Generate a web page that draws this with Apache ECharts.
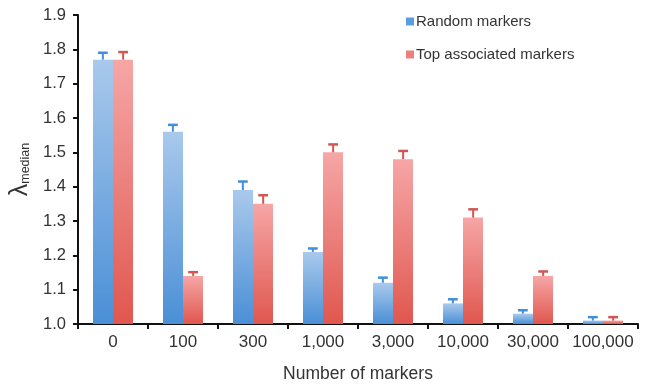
<!DOCTYPE html>
<html>
<head>
<meta charset="utf-8">
<script src="https://cdn.jsdelivr.net/npm/echarts@6/dist/echarts.min.js"></script>
<style>
  html, body { margin: 0; padding: 0; background: #fff; }
  #chart { width: 649px; height: 386px; }
</style>
</head>
<body>
<div id="chart"></div>
<script>
// Median genomic inflation (lambda) by number of markers used for adjustment
var categories = ['0', '100', '300', '1,000', '3,000', '10,000', '30,000', '100,000'];
var randomValues = [1.77, 1.56, 1.39, 1.21, 1.12, 1.06, 1.03, 1.01];
var randomUpper  = [1.79, 1.58, 1.415, 1.22, 1.135, 1.072, 1.04, 1.02];
var topValues    = [1.77, 1.14, 1.35, 1.50, 1.48, 1.31, 1.14, 1.01];
var topUpper     = [1.792, 1.151, 1.375, 1.523, 1.504, 1.334, 1.153, 1.02];
var yTicks = [1.0, 1.1, 1.2, 1.3, 1.4, 1.5, 1.6, 1.7, 1.8, 1.9];

var chart = echarts.init(document.getElementById('chart'));
var FONT = 'Liberation Sans, Arial, sans-serif';

function grad(top, bottom) {
  return new echarts.graphic.LinearGradient(0, 0, 0, 1, [
    { offset: 0, color: top }, { offset: 1, color: bottom }
  ]);
}
var blueFill = grad('#a9c9ec', '#4a8fd6');
var redFill = grad('#f6a6a6', '#e0574f');

// upper error bar with cap; side selects left (-1) or right (+1) bar of the pair
function errorBar(upper, values, side, color) {
  return {
    type: 'custom',
    z: 5,
    data: categories.map(function (c, i) { return [i, values[i], upper[i]]; }),
    renderItem: function (params, api) {
      var base = api.coord([api.value(0), api.value(1)]);
      var top = api.coord([api.value(0), api.value(2)]);
      var band = api.size([1, 0])[0];
      var x = base[0] + side * band * 0.145;
      var cap = band * 0.07;
      return {
        type: 'group',
        children: [
          { type: 'line', shape: { x1: x, y1: base[1], x2: x, y2: top[1] },
            style: { stroke: color, lineWidth: 2 } },
          { type: 'line', shape: { x1: x - cap, y1: top[1], x2: x + cap, y2: top[1] },
            style: { stroke: color, lineWidth: 2.5 } }
        ]
      };
    }
  };
}

chart.setOption({
  animation: false,
  textStyle: { fontFamily: FONT },
  grid: { left: 78, right: 11, top: 15, bottom: 62, containLabel: false, outerBoundsMode: 'none' },
  legend: {
    orient: 'vertical',
    left: 401,
    top: 9,
    itemWidth: 8,
    itemHeight: 8,
    itemGap: 18,
    icon: 'rect',
    textStyle: { fontSize: 15, color: '#333', fontFamily: FONT, padding: [0, 0, 0, -3] },
    data: [
      { name: 'Random markers', itemStyle: { color: '#5b9ee0' } },
      { name: 'Top associated markers', itemStyle: { color: '#ee7f7a' } }
    ]
  },
  xAxis: {
    type: 'category',
    data: categories,
    name: 'Number of markers',
    nameLocation: 'middle',
    nameGap: 41,
    nameTextStyle: { fontSize: 17.5, color: '#333', fontFamily: FONT },
    axisLine: { lineStyle: { color: '#111', width: 2 } },
    axisTick: { show: true, length: 5, lineStyle: { color: '#111', width: 2 } },
    axisLabel: { interval: 0, hideOverlap: false, fontSize: 17, color: '#333', margin: 10, fontFamily: FONT }
  },
  yAxis: {
    type: 'value',
    min: 1.0,
    max: 1.9,
    interval: 0.1,
    name: '{l|λ}{s|median}',
    nameLocation: 'middle',
    nameRotate: 90,
    nameGap: 45,
    nameTextStyle: {
      rich: {
        l: { fontSize: 25, color: '#333', fontFamily: FONT },
        s: { fontSize: 12.5, color: '#333', fontFamily: FONT, padding: [12, 0, 0, 0] }
      }
    },
    splitLine: { show: false },
    axisLine: { show: true, lineStyle: { color: '#111', width: 2 } },
    axisTick: { show: true, length: 5, lineStyle: { color: '#111', width: 2 } },
    axisLabel: {
      fontSize: 16.5, color: '#333', margin: 12, fontFamily: FONT,
      formatter: function (v) { return v.toFixed(1); }
    }
  },
  series: [
    {
      name: 'Random markers',
      type: 'bar',
      data: randomValues,
      barWidth: 20,
      barGap: '0%',
      itemStyle: { color: blueFill },
      z: 3
    },
    {
      name: 'Top associated markers',
      type: 'bar',
      data: topValues,
      barWidth: 20,
      barGap: '0%',
      itemStyle: { color: redFill },
      z: 3
    },
    errorBar(randomUpper, randomValues, -1, '#3f8fdc'),
    errorBar(topUpper, topValues, 1, '#d35550')
  ]
});
</script>
</body>
</html>
